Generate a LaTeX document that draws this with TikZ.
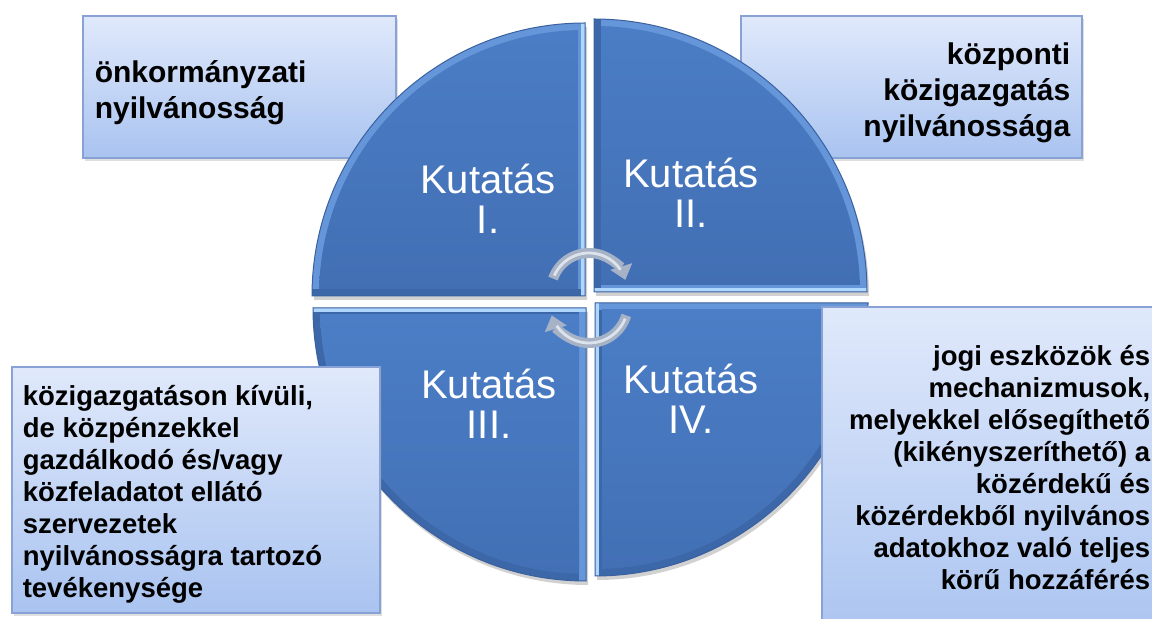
\documentclass[tikz,border=0pt]{standalone}
\usepackage{fontspec}
\setmainfont{Liberation Sans}
\usetikzlibrary{arrows.meta,positioning,shadows}

\definecolor{quadblue}{HTML}{4B7EC6}
\definecolor{quadlow}{HTML}{426FB4}
\definecolor{quaddark}{HTML}{3A619E}
\definecolor{quadrimtop}{HTML}{6596D9}
\definecolor{quadrimlow}{HTML}{3C67A8}
\definecolor{quadshine}{HTML}{AFD6FC}
\definecolor{boxtop}{HTML}{E0E9FB}
\definecolor{boxbottom}{HTML}{A9C3F0}
\definecolor{boxline}{HTML}{88A2D5}
\definecolor{cyclegray}{HTML}{A6B2C5}
\definecolor{cycleshine}{HTML}{DCE3EC}

\tikzset{
  infobox/.style={draw=boxline, line width=0.6pt, top color=boxtop, bottom color=boxbottom,
    drop shadow={opacity=0.25, shadow xshift=1pt, shadow yshift=-1.5pt}, inner sep=0pt},
  boxtext/.style={font=\bfseries\fontsize{15}{18}\selectfont, inner sep=0pt},
  smalltext/.style={font=\bfseries\fontsize{13.75}{16}\selectfont, inner sep=0pt},
  kutatas/.style={font=\fontsize{20}{20}\selectfont, text=white, align=center, inner sep=0pt},
  cyclearrow/.style={line width=5pt, draw=cyclegray, -{Triangle[width=11pt, length=7pt]}},
}

\begin{document}
\begin{tikzpicture}[x=0.5pt, y=-0.5pt]
  \useasboundingbox (0,0) rectangle (1152,619);
  \clip (0,0) rectangle (1152,619);
  % upper boxes, behind the circle
  \node[infobox, minimum width=156.5pt, minimum height=71pt] (selfgov) at (239.5,87) {};
  \node[boxtext, align=left, anchor=west] (selfgovtext) at ([xshift=6pt, yshift=-3pt]selfgov.west)
    {önkormányzati\\nyilvánosság};
  \node[infobox, minimum width=170.5pt, minimum height=71pt] (central) at (911.5,87) {};
  \node[boxtext, align=right, anchor=east] (centraltext) at ([xshift=-6pt, yshift=-3pt]central.east)
    {központi\\közigazgatás\\nyilvánossága};
  % four quarters: corner / start angle / signs / shine strip / side strip / rim and side colour
  \foreach \cx/\cy/\sa/\sx/\sy/\ex/\ey/\fx/\fy/\rim/\side in {
      585/296/180/-1/-1/-4/-280/-280/-7/quadrimtop/quadrimlow,
      594/292/270/1/-1/280/-4/7/-280/quadrimtop/quadrimlow,
      586/308/90/-1/1/-280/4/-7/280/quadrimlow/quadrimtop,
      595/303/0/1/1/4/280/280/7/quadrimlow/quadrimtop} {
    \begin{scope}[shift={(\cx,\cy)}]
      \fill[black, opacity=0.18] (2,4) -- ++(\sa:273) arc[start angle=\sa, delta angle=90, radius=273] -- cycle;
      \fill[\rim] (0,0) -- (\sa:273) arc[start angle=\sa, delta angle=90, radius=273] -- cycle;
      \begin{scope}
        \clip (0,0) -- (\sa:273) arc[start angle=\sa, delta angle=90, radius=273] -- cycle;
        \fill[\side] (0,0) rectangle (\fx,\fy);
        \fill[quadshine] (0,0) rectangle (\ex,\ey);
      \end{scope}
      \begin{scope}
        \clip (0,0) circle (266);
        \shade[top color=quadblue, bottom color=quadlow] (7*\sx,7*\sy) rectangle (280*\sx,280*\sy);
      \end{scope}
      \draw[quaddark, line width=0.5pt] (0,0) -- (\sa:273) arc[start angle=\sa, delta angle=90, radius=273] -- cycle;
    \end{scope}
  }
  % labels of the quarters
  \node[kutatas] (k1) at (488,199) {Kutatás\\I.};
  \node[kutatas] (k2) at (691,193) {Kutatás\\II.};
  \node[kutatas] (k3) at (489,404) {Kutatás\\III.};
  \node[kutatas] (k4) at (691,399) {Kutatás\\IV.};
  % cycle arrows round the hub
  \coordinate (upperhub) at (589,291);
  \coordinate (lowerhub) at (589,304);
  \draw[cyclearrow] ([shift={(199:38)}]upperhub) arc[start angle=199, end angle=343, radius=38];
  \draw[cycleshine, line width=1.4pt] ([shift={(204:38)}]upperhub) arc[start angle=204, end angle=326, radius=38];
  \draw[cyclearrow] ([shift={(17:39)}]lowerhub) arc[start angle=17, end angle=163, radius=39];
  \draw[cycleshine, line width=1.4pt] ([shift={(22:39)}]lowerhub) arc[start angle=22, end angle=146, radius=39];
  % lower boxes, in front of the circle
  \node[infobox, minimum width=184pt, minimum height=123pt] (outside) at (196,490) {};
  \node[smalltext, align=left, anchor=west] (outsidetext) at ([xshift=5.5pt, yshift=-2pt]outside.west)
    {közigazgatáson kívüli,\\de közpénzekkel\\gazdálkodó és/vagy\\közfeladatot ellátó\\szervezetek\\nyilvánosságra tartozó\\tevékenysége};
  \node[infobox, minimum width=172pt, minimum height=170pt] (legal) at (994,477) {};
  \node[smalltext, align=right, anchor=east] (legaltext) at ([xshift=-8pt, yshift=4.5pt]legal.east)
    {jogi eszközök és\\mechanizmusok,\\melyekkel elősegíthető\\(kikényszeríthető) a\\közérdekű és\\közérdekből nyilvános\\adatokhoz való teljes\\körű hozzáférés};
\end{tikzpicture}
\end{document}
